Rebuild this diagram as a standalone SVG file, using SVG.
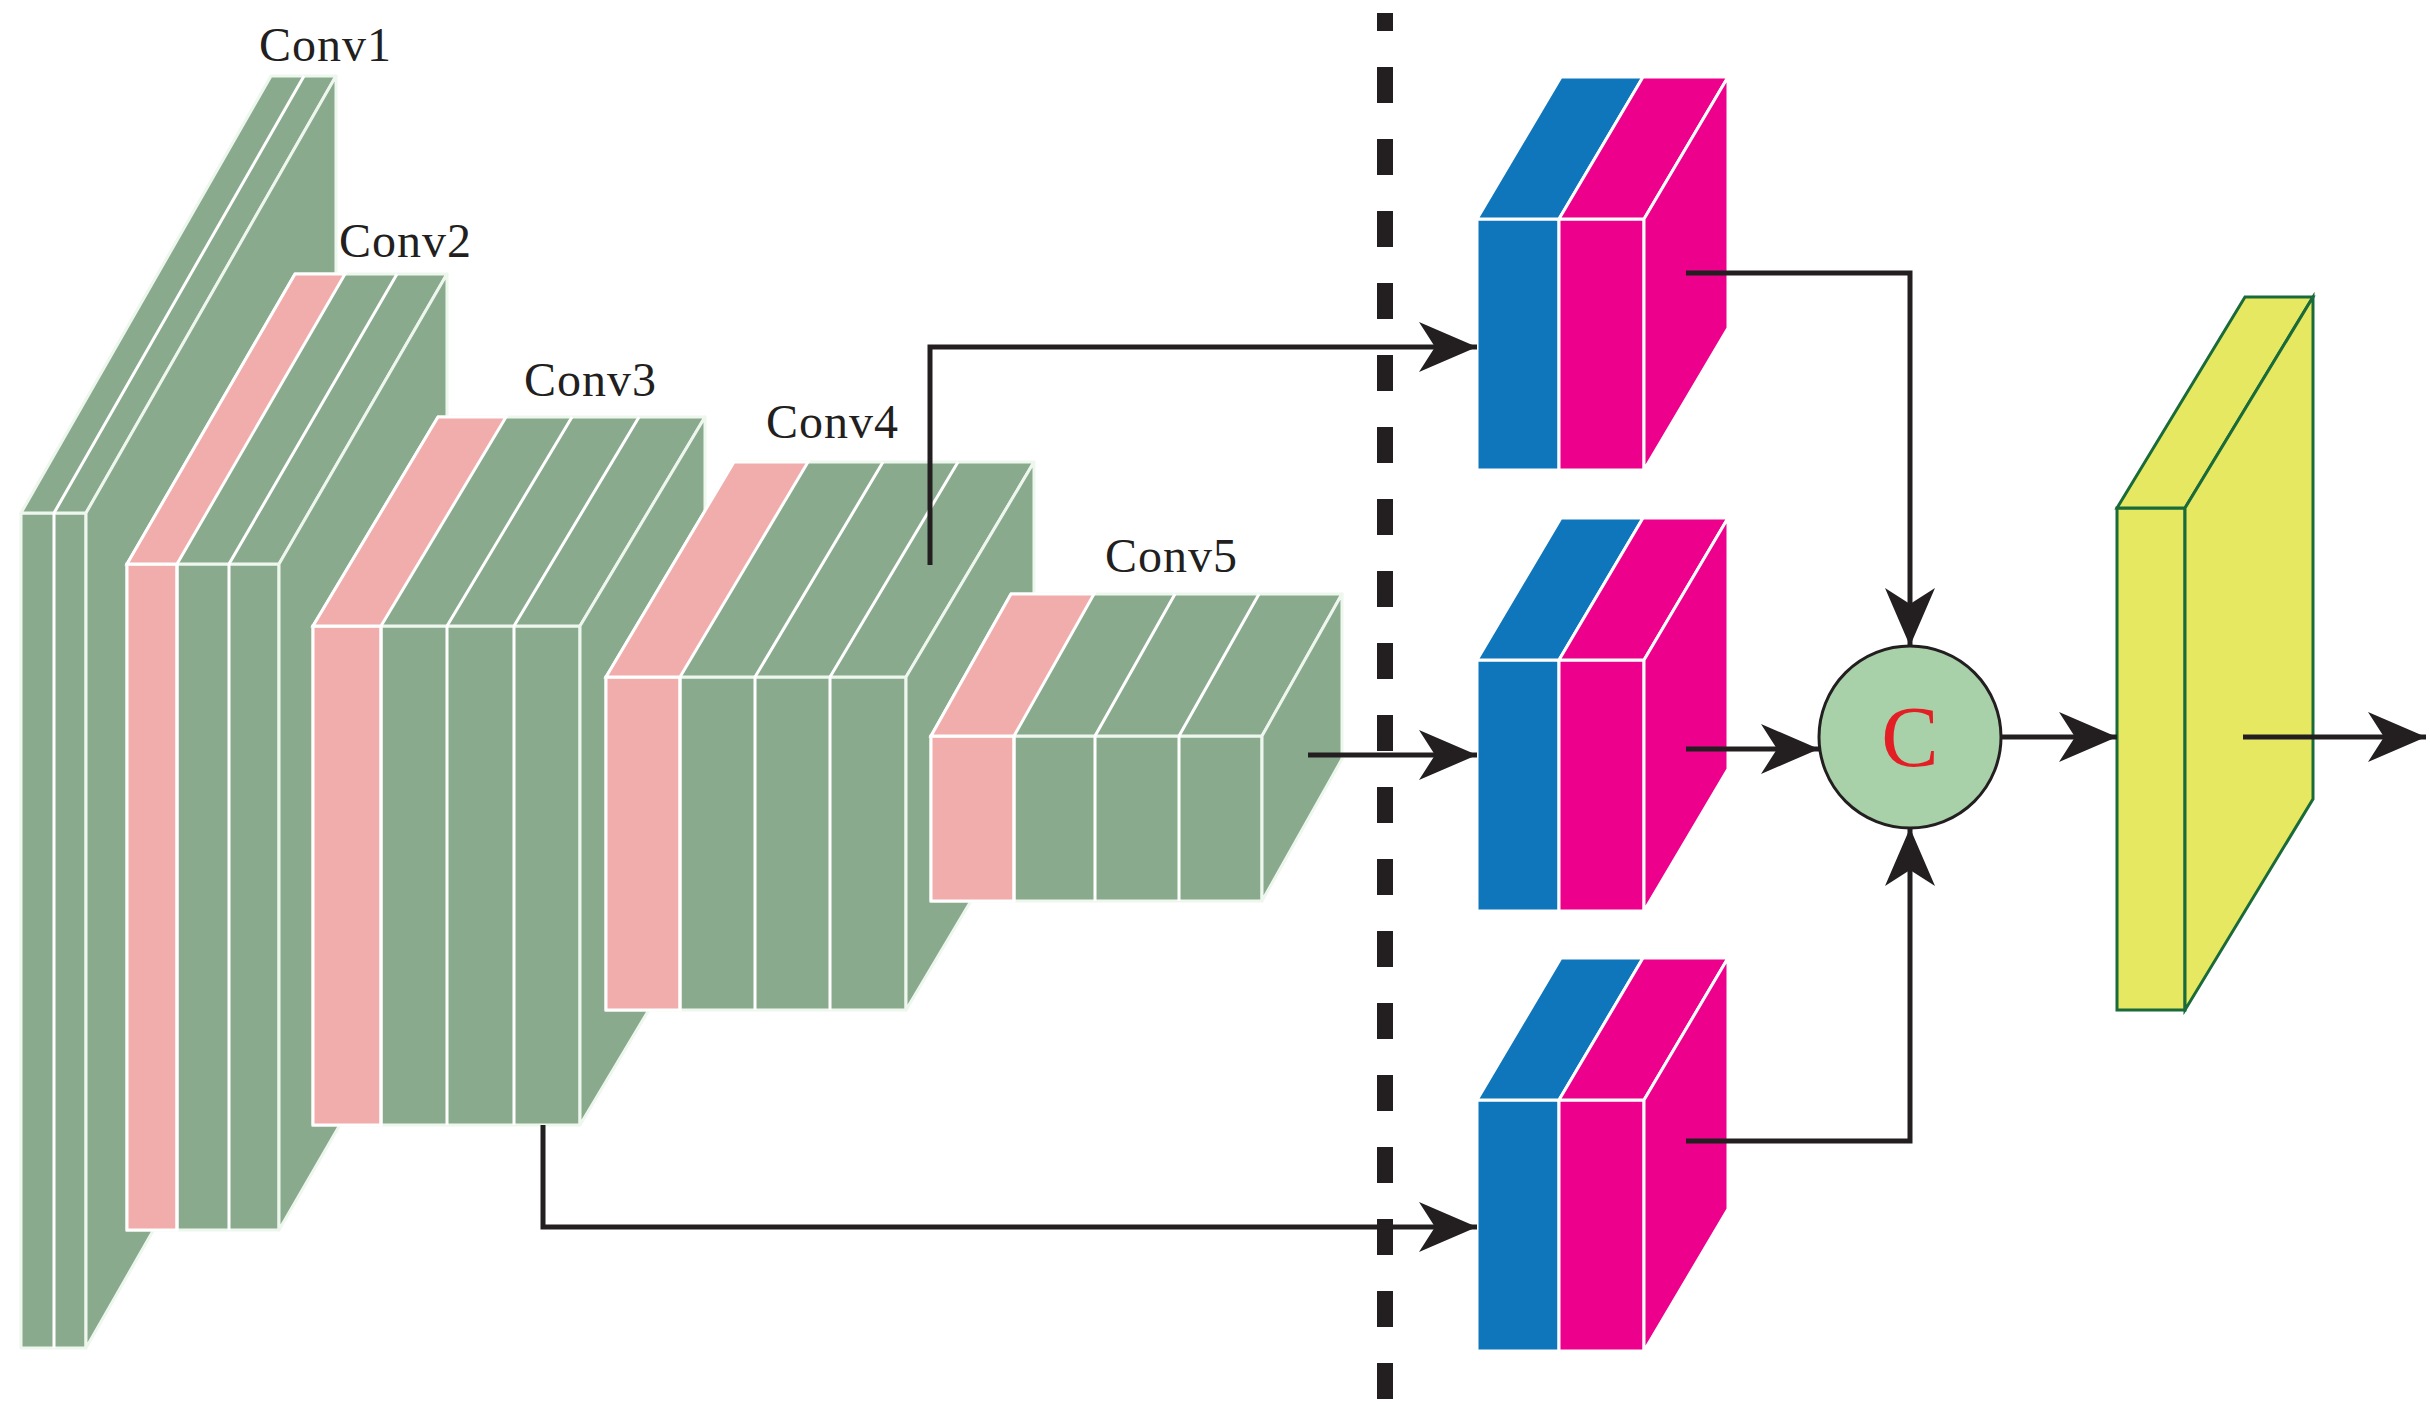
<svg xmlns="http://www.w3.org/2000/svg" width="2430" height="1414" viewBox="0 0 2430 1414">
<style>
.g{fill:#8aaa8e;stroke:#eef7ee;stroke-width:3;stroke-linejoin:round}
.p{fill:#f1adab;stroke:#fff;stroke-width:3}
.sep{stroke:#fff;stroke-width:3;fill:none}
.bl{fill:#0f76bb;stroke:#fff;stroke-width:3}
.pk{fill:#ec008c;stroke:#fff;stroke-width:3}
.y{fill:#e6e862;stroke:#1a6b3a;stroke-width:3}
.lbl{font-family:"Liberation Serif",serif;font-size:48px;fill:#231f20;letter-spacing:1px}
.c{fill:none;stroke:#231f20;stroke-width:5}
</style>
<defs>
<marker id="ah" markerUnits="userSpaceOnUse" markerWidth="70" markerHeight="60" viewBox="-60 -30 62 60" refX="0" refY="0" orient="auto">
<path d="M0,0 L-58,-25 L-42,0 L-58,25 Z" fill="#231f20"/>
</marker>
</defs>
<rect width="2430" height="1414" fill="#fff"/>
<g id="conv1">
<rect class="g" x="21" y="513" width="65" height="835"/>
<polygon class="g" points="21,513 86,513 336,76 271,76"/>
<polygon class="g" points="86,513 336,76 336,911 86,1348"/>
<path class="sep" d="M54,513V1348M54,513L304,76"/>
<text class="lbl" x="259" y="61">Conv1</text>
</g>
<g id="conv2">
<rect class="g" x="127" y="564" width="152" height="666"/>
<rect class="p" x="127" y="564" width="50" height="666"/>
<polygon class="g" points="127,564 279,564 447,274 295,274"/>
<polygon class="p" points="127,564 177,564 345,274 295,274"/>
<polygon class="g" points="279,564 447,274 447,940 279,1230"/>
<path class="sep" d="M177,564V1230M229,564V1230M229,564L397,274"/>
<text class="lbl" x="339" y="257">Conv2</text>
</g>
<g id="conv3">
<rect class="g" x="313" y="626" width="267" height="499"/>
<rect class="p" x="313" y="626" width="68" height="499"/>
<polygon class="g" points="313,626 580,626 705,417 438,417"/>
<polygon class="p" points="313,626 381,626 506,417 438,417"/>
<polygon class="g" points="580,626 705,417 705,916 580,1125"/>
<path class="sep" d="M381,626V1125M447,626V1125M514,626V1125M447,626L572,417M514,626L639,417"/>
<text class="lbl" x="524" y="396">Conv3</text>
</g>
<g id="conv4">
<rect class="g" x="606" y="677" width="300" height="333"/>
<rect class="p" x="606" y="677" width="74" height="333"/>
<polygon class="g" points="606,677 906,677 1034,462 734,462"/>
<polygon class="p" points="606,677 680,677 808,462 734,462"/>
<polygon class="g" points="906,677 1034,462 1034,795 906,1010"/>
<path class="sep" d="M680,677V1010M755,677V1010M830,677V1010M755,677L883,462M830,677L958,462"/>
<text class="lbl" x="766" y="438">Conv4</text>
</g>
<g id="conv5">
<rect class="g" x="931" y="736" width="331" height="165"/>
<rect class="p" x="931" y="736" width="83" height="165"/>
<polygon class="g" points="931,736 1262,736 1342,594 1011,594"/>
<polygon class="p" points="931,736 1014,736 1094,594 1011,594"/>
<polygon class="g" points="1262,736 1342,594 1342,759 1262,901"/>
<path class="sep" d="M1014,736V901M1095,736V901M1179,736V901M1095,736L1175,594M1179,736L1259,594"/>
<text class="lbl" x="1105" y="572">Conv5</text>
</g>
<line x1="1385" y1="13" x2="1385" y2="1400" stroke="#231f20" stroke-width="16" stroke-dasharray="36 36" stroke-dashoffset="18"/>
<g id="box1" transform="translate(-3,0)">
<rect class="bl" x="1480" y="219" width="82" height="251"/>
<rect class="pk" x="1562" y="219" width="85" height="251"/>
<polygon class="bl" points="1480,219 1562,219 1646,77 1564,77"/>
<polygon class="pk" points="1562,219 1647,219 1731,77 1646,77"/>
<polygon class="pk" points="1647,219 1731,77 1731,328 1647,470"/>
</g>
<g id="box2" transform="translate(-3,441)">
<rect class="bl" x="1480" y="219" width="82" height="251"/>
<rect class="pk" x="1562" y="219" width="85" height="251"/>
<polygon class="bl" points="1480,219 1562,219 1646,77 1564,77"/>
<polygon class="pk" points="1562,219 1647,219 1731,77 1646,77"/>
<polygon class="pk" points="1647,219 1731,77 1731,328 1647,470"/>
</g>
<g id="box3" transform="translate(-3,881)">
<rect class="bl" x="1480" y="219" width="82" height="251"/>
<rect class="pk" x="1562" y="219" width="85" height="251"/>
<polygon class="bl" points="1480,219 1562,219 1646,77 1564,77"/>
<polygon class="pk" points="1562,219 1647,219 1731,77 1646,77"/>
<polygon class="pk" points="1647,219 1731,77 1731,328 1647,470"/>
</g>
<g id="concat">
<circle cx="1910" cy="737" r="91" fill="#a9d1a9" stroke="#231f20" stroke-width="3"/>
<text x="1910" y="766" text-anchor="middle" font-family="Liberation Serif,serif" font-size="86" fill="#e31e24">C</text>
</g>
<g id="output">
<rect class="y" x="2117" y="508" width="68" height="502"/>
<polygon class="y" points="2117,508 2185,508 2313,297 2245,297"/>
<polygon class="y" points="2185,508 2313,297 2313,799 2185,1010"/>
</g>
<g id="connectors">
<path class="c" d="M930,565V347H1477" marker-end="url(#ah)"/>
<path class="c" d="M1308,755H1477" marker-end="url(#ah)"/>
<path class="c" d="M543,1125V1227H1477" marker-end="url(#ah)"/>
<path class="c" d="M1686,273H1910V646" marker-end="url(#ah)"/>
<path class="c" d="M1686,749H1819" marker-end="url(#ah)"/>
<path class="c" d="M1686,1141H1910V828" marker-end="url(#ah)"/>
<path class="c" d="M2001,737H2117" marker-end="url(#ah)"/>
<path class="c" d="M2243,737H2426" marker-end="url(#ah)"/>
</g>
</svg>
